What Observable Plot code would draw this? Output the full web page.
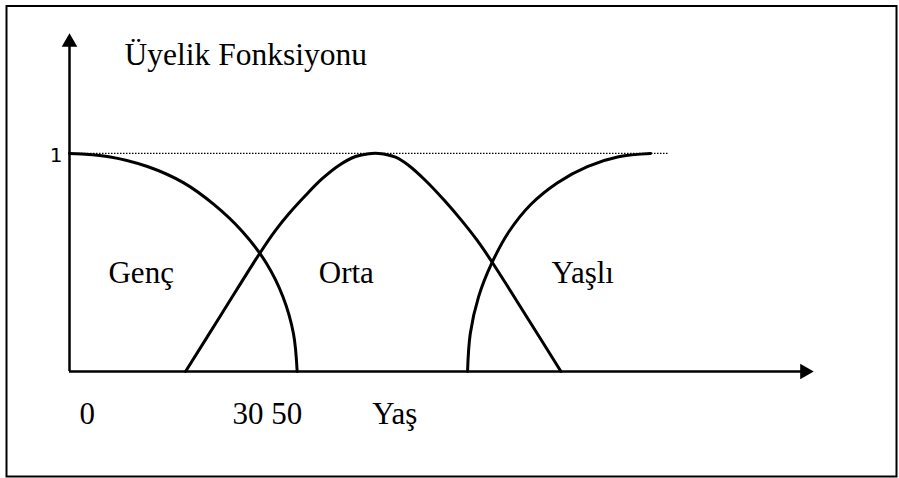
<!DOCTYPE html>
<html>
<head>
<meta charset="utf-8">
<script src="https://cdn.jsdelivr.net/npm/d3@7"></script>
<script src="https://cdn.jsdelivr.net/npm/@observablehq/plot@0.6"></script>
<style>
  html, body { margin: 0; padding: 0; background: #fff; }
  #chart svg { display: block; overflow: visible; }
  #chart svg g[aria-label="serif-text"] text { font-family: "Liberation Serif", "Times New Roman", "DejaVu Serif", serif !important; }
  #chart svg g[aria-label="one-label"] text { font-family: "DejaVu Sans", sans-serif !important; }
</style>
</head>
<body>
<div id="chart"></div>
<script>
// Membership curves (x: age axis in relative units 0–100, y: membership degree)
const gencX = [0, 5.31, 10.47, 15.3, 19.4, 23.2, 26.4, 28.7, 30.1, 30.6];
const gencY = [1, 0.985, 0.94, 0.866, 0.766, 0.643, 0.5, 0.342, 0.174, 0];

const ortaX = [15.6, 20.63, 25.67, 27.69, 29.48, 31.72, 33.96, 36.2, 38.44, 40.23, 41.57, 43.82, 45.6, 47.85, 50.4, 52.69, 54.8, 56.81, 61.49, 66.06];
const ortaY = [0, 0.274, 0.547, 0.647, 0.723, 0.807, 0.884, 0.945, 0.986, 0.999, 1.0, 0.983, 0.945, 0.876, 0.784, 0.693, 0.601, 0.501, 0.249, 0];

const yasliX = [53.5, 53.87, 54.98, 56.8, 59.1, 62.0, 65.6, 69.6, 73.8, 78.1];
const yasliY = [0, 0.174, 0.342, 0.5, 0.643, 0.766, 0.866, 0.94, 0.985, 1];

// Region labels
const labelText = ["Genç", "Orta", "Yaşlı"];
const labelX = [5.24, 33.5, 64.8];
const labelY = [0.408, 0.408, 0.408];

// Axis tick labels
const tickText = ["0", "30 50", "Yaş"];
const tickX = [1.34, 21.9, 40.7];
const tickY = [-0.239, -0.239, -0.239];

const titleText = ["Üyelik Fonksiyonu"];
const titleX = [7.4];
const titleY = [1.404];

const oneText = ["1"];
const oneValue = [1];
const dottedEnd = 80.5;
const xMax = 100;
const yMax = 1.55;

const toPts = (xs, ys) => xs.map((x, i) => ({x, y: ys[i]}));
const serif = "Liberation Serif";

const chart = Plot.plot({
  width: 899,
  height: 478,
  marginLeft: 69,
  marginRight: 86,
  marginTop: 33,
  marginBottom: 107,
  x: {domain: [0, xMax], axis: null},
  y: {domain: [0, yMax], axis: null},
  marks: [
    Plot.frame({stroke: "#000", strokeWidth: 2, insetLeft: -63, insetRight: -83, insetTop: -27.5, insetBottom: -105}),
    // dotted reference line at membership 1
    Plot.ruleY(oneValue, {x1: 0, x2: dottedEnd, stroke: "#000", strokeWidth: 1.3, strokeDasharray: "1.5 1.5"}),
    // axes
    Plot.ruleY([0], {x1: 0, x2: xMax - 1.2, stroke: "#000", strokeWidth: 2.5}),
    Plot.ruleX([0], {y1: 0, y2: yMax - 0.04, stroke: "#000", strokeWidth: 2.5}),
    Plot.dot([{x: 0, y: yMax}], {x: "x", y: "y", symbol: "triangle", r: 5.8, fill: "#000", stroke: "none", dy: 8.8}),
    Plot.dot([{x: xMax, y: 0}], {x: "x", y: "y", symbol: "triangle", r: 5.8, fill: "#000", stroke: "none", rotate: 90, dx: -8.8}),
    // curves
    Plot.line(toPts(gencX, gencY), {x: "x", y: "y", curve: "catmull-rom", stroke: "#000", strokeWidth: 3}),
    Plot.line(toPts(ortaX, ortaY), {x: "x", y: "y", curve: "catmull-rom", stroke: "#000", strokeWidth: 3}),
    Plot.line(toPts(yasliX, yasliY), {x: "x", y: "y", curve: "catmull-rom", stroke: "#000", strokeWidth: 3}),
    // texts
    Plot.text(titleText, {x: titleX, y: titleY, text: d => d, textAnchor: "start", lineAnchor: "bottom", fontFamily: serif, fontSize: 31.5, fill: "#000", ariaLabel: "serif-text"}),
    Plot.text(labelText, {x: labelX, y: labelY, text: d => d, textAnchor: "start", lineAnchor: "bottom", fontFamily: serif, fontSize: 31, fill: "#000", ariaLabel: "serif-text"}),
    Plot.text(tickText, {x: tickX, y: tickY, text: d => d, textAnchor: "start", lineAnchor: "bottom", fontFamily: serif, fontSize: 31, fill: "#000", ariaLabel: "serif-text"}),
    Plot.text(oneText, {x: [-0.94], y: oneValue, text: d => d, textAnchor: "end", fontFamily: "DejaVu Sans", fontSize: 20, fill: "#000", dy: 2, ariaLabel: "one-label"})
  ]
});
document.getElementById("chart").appendChild(chart);
</script>
</body>
</html>
